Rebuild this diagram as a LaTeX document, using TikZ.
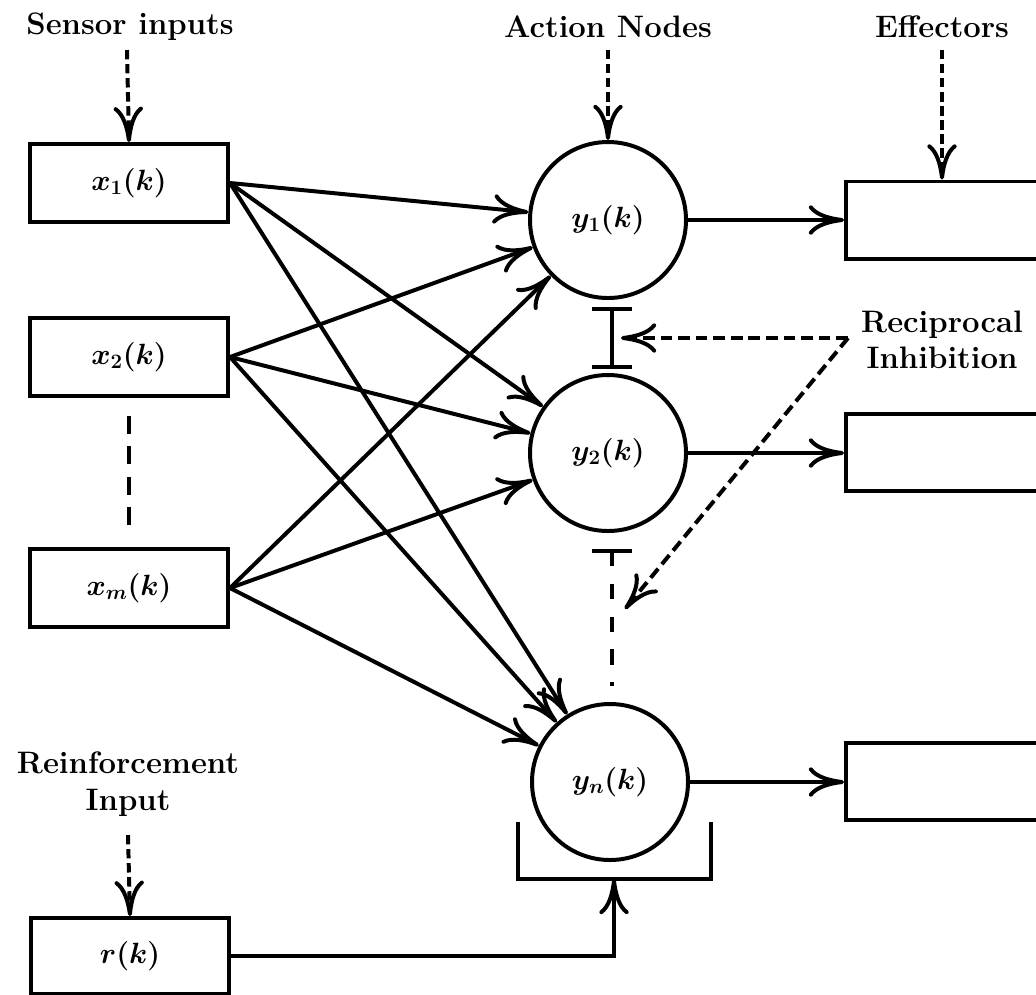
\RequirePackage{fix-cm}
\documentclass[tikz,border=0pt]{standalone}
\usetikzlibrary{arrows.meta}
\begin{document}
\begin{tikzpicture}[x=0.03cm,y=-0.03cm,
  every node/.style={font=\fontsize{25}{30}\selectfont\boldmath},
  lw/.style={line width=3.4pt},
  arr/.style={lw,-{Computer Modern Rightarrow[length=30pt,width=25pt]}},
  darr/.style={arr,dash pattern=on 8pt off 4pt},
  darrb/.style={arr,dash pattern=on 10pt off 5pt},
  box/.style={draw,lw,rectangle,inner sep=0pt,minimum width=5.94cm,minimum height=2.34cm},
  effbox/.style={box,minimum width=6.42cm,minimum height=2.31cm},
  neuron/.style={draw,lw,circle,inner sep=0pt,minimum size=4.68cm},
  lab/.style={font=\fontsize{26.5}{31}\selectfont\bfseries,align=center}]
\clip (0,0) rectangle (1036,994);
\fill[white] (0,0) rectangle (1036,994);

% input boxes
\node[box] (x1) at (129,183) {$x_1(k)$};
\node[box] (x2) at (129,357) {$x_2(k)$};
\node[box] (xm) at (129,588) {$x_m(k)$};
\node[box,minimum height=2.28cm] (r) at (130,956) {$r(k)$};

% action nodes
\node[neuron] (y1) at (608,220) {$y_1(k)$};
\node[neuron] (y2) at (608,453) {$y_2(k)$};
\node[neuron] (yn) at (610,782) {$y_n(k)$};

% effector boxes
\node[effbox] (e1) at (953,220) {};
\node[effbox] (e2) at (953,452) {};
\node[effbox] (e3) at (953,781) {};

% labels
\node[lab] (sens) at (130,27) {Sensor inputs};
\node[lab] (act) at (608,27) {Action Nodes};
\node[lab] (eff) at (942,27) {Effectors};
\node[lab] (rec) at (942,340) {Reciprocal\\Inhibition};
\node[lab] (rein) at (128,784) {Reinforcement\\Input};

% dashed input arrows
\coordinate (s0) at (127,50);
\coordinate (a0) at (608,50);
\coordinate (f0) at (942,50);
\coordinate (r0) at (128,835);
\draw[darr] (s0) -- (x1.north);
\draw[darr] (a0) -- (y1.north);
\draw[darr] (f0) -- (f0 |- e1.north);
\draw[darr] (r0) -- (r.north);

% dashed line between x2 and xm
\draw[lw,dash pattern=on 15pt off 11pt] ([yshift=-18*0.03cm]x2.south) -- ([yshift=20*0.03cm]xm.north);

% all-to-all connections
\foreach \s in {x1,x2,xm}
  \foreach \t in {y1,y2,yn}
    \draw[arr] (\s.east) -- (\t);

% outputs
\draw[arr] (y1.east) -- (y1.east -| e1.west);
\draw[arr] (y2.east) -- (y2.east -| e2.west);
\draw[arr] (yn.east) -- (yn.east -| e3.west);

% reciprocal inhibition bars
\coordinate (i1a) at (612,309);
\coordinate (i1b) at (612,367);
\draw[lw] ([xshift=-20*0.03cm]i1a) -- ([xshift=20*0.03cm]i1a)
          (i1a) -- (i1b)
          ([xshift=-20*0.03cm]i1b) -- ([xshift=20*0.03cm]i1b);
\coordinate (i2a) at (612,551);
\coordinate (i2b) at (612,686);
\draw[lw] ([xshift=-20*0.03cm]i2a) -- ([xshift=20*0.03cm]i2a);
\draw[lw,dash pattern=on 13pt off 15pt] (i2a) -- (i2b);

\coordinate (recL) at (848,338);
\coordinate (t1) at (621,338);
\coordinate (t2) at (625,609);
\draw[darrb] (recL) -- (t1);
\draw[darrb] (recL) -- (t2);

% reinforcement bracket
\coordinate (bl) at (518,822);
\coordinate (br) at (711,822);
\coordinate (bk) at (614,879);
\draw[lw] (bl) |- (br |- bk) -- (br);
\draw[arr] (r.east) -| (bk);
\end{tikzpicture}
\end{document}
